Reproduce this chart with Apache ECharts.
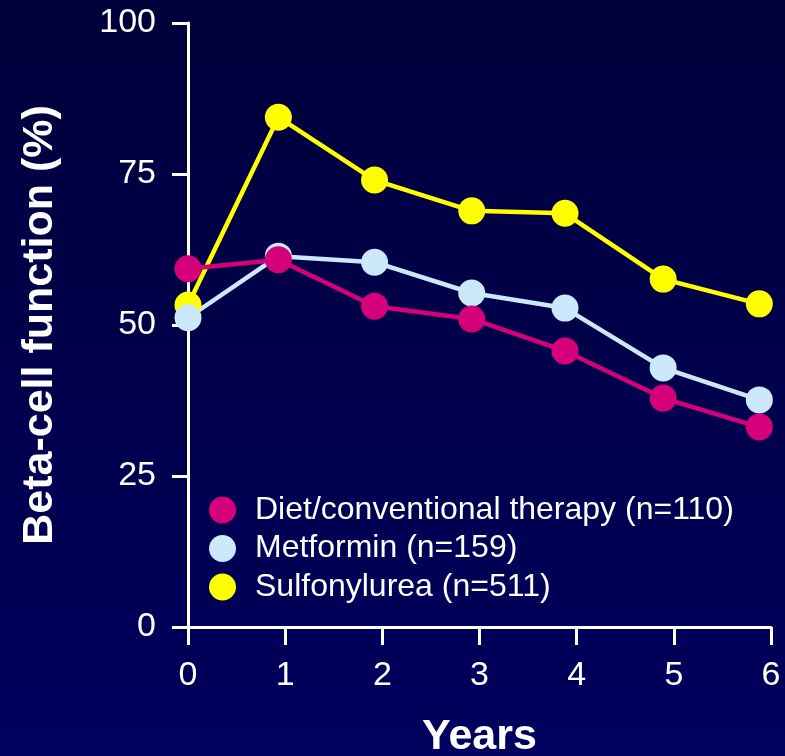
<!DOCTYPE html>
<html><head><meta charset="utf-8">
<script src="https://cdn.jsdelivr.net/npm/echarts@6/dist/echarts.min.js"></script>
<style>html,body{margin:0;padding:0;}#c{width:785px;height:756px;}</style>
</head><body><div id="c"></div>
<script>
var years = [0, 0.93, 1.92, 2.92, 3.88, 4.89, 5.88];
var seriesNames = ['Diet/conventional therapy (n=110)', 'Metformin (n=159)', 'Sulfonylurea (n=511)'];
var dietValues = [59.3, 60.8, 53.1, 51.0, 45.7, 37.9, 33.1];
var metforminValues = [51.2, 61.4, 60.4, 55.3, 52.8, 42.9, 37.6];
var sulfonylureaValues = [53.3, 84.4, 74.0, 68.9, 68.5, 57.6, 53.5];
var yTicks = [0, 25, 50, 75, 100];
var xTicks = [0, 1, 2, 3, 4, 5, 6];

function pairs(xs, ys){ return xs.map(function(x,i){ return [x, ys[i]]; }); }
var colors = { diet: '#d6007a', met: '#cce8fb', sulf: '#ffff00' };
var font = '"Liberation Sans", Arial, Helvetica, sans-serif';

function mk(name, vals, color){
  return {
    name: name, type: 'line', data: pairs(years, vals),
    symbol: 'circle', symbolSize: 27,
    lineStyle: { color: color, width: 4.5 },
    itemStyle: { color: color },
    emphasis: { disabled: true }, animation: false
  };
}

var chart = echarts.init(document.getElementById('c'), null, { renderer: 'canvas' });
chart.setOption({
  backgroundColor: new echarts.graphic.LinearGradient(0, 0, 0, 1, [
    { offset: 0, color: '#00003a' }, { offset: 1, color: '#00005e' }
  ]),
  animation: false,
  grid: { left: 188, right: 14, top: 23, bottom: 129, containLabel: false, outerBoundsMode: 'none' },
  legend: {
    data: seriesNames, orient: 'vertical', left: 209, top: 494, padding: 0,
    icon: 'circle', itemWidth: 27, itemHeight: 27, itemGap: 6.5,
    textStyle: { color: '#ffffff', fontSize: 32, fontFamily: font, padding: [0,0,0,14] },
    selectedMode: false
  },
  xAxis: {
    type: 'value', min: 0, max: 6, interval: 1,
    name: 'Years', nameLocation: 'middle', nameGap: 89,
    nameTextStyle: { color: '#ffffff', fontSize: 43, fontWeight: 'bold', fontFamily: font },
    axisLine: { show: true, onZero: false, lineStyle: { color: '#ffffff', width: 3 } },
    axisTick: { show: true, length: 18, inside: false, lineStyle: { color: '#ffffff', width: 3 } },
    axisLabel: { color: '#ffffff', fontSize: 34, fontFamily: font, margin: 32,
      formatter: function(v){ return xTicks.indexOf(v) >= 0 ? String(v) : ''; } },
    splitLine: { show: false }
  },
  yAxis: {
    type: 'value', min: 0, max: 100, interval: 25,
    name: 'Beta-cell function (%)', nameLocation: 'middle', nameGap: 126, nameRotate: 90,
    nameTextStyle: { color: '#ffffff', fontSize: 43, fontWeight: 'bold', fontFamily: font },
    axisLine: { show: true, lineStyle: { color: '#ffffff', width: 3 } },
    axisTick: { show: true, length: 16, lineStyle: { color: '#ffffff', width: 3 } },
    axisLabel: { color: '#ffffff', fontSize: 34, fontFamily: font, margin: 32,
      formatter: function(v){ return yTicks.indexOf(v) >= 0 ? String(v) : ''; } },
    splitLine: { show: false }
  },
  series: [
    mk(seriesNames[2], sulfonylureaValues, colors.sulf),
    mk(seriesNames[1], metforminValues, colors.met),
    mk(seriesNames[0], dietValues, colors.diet)
  ]
});
</script></body></html>
